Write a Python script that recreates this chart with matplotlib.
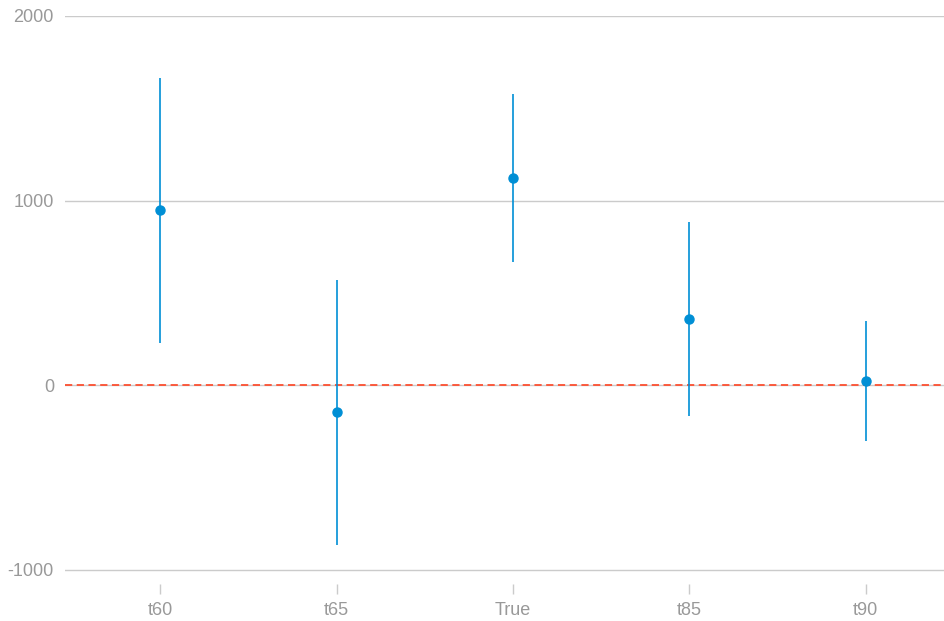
import matplotlib
matplotlib.use('Agg')
import matplotlib.pyplot as plt
import numpy as np

labels = ['t60', 't65', 'True', 't85', 't90']
estimate = [947, -146, 1121, 357, 22]
lower = [227, -866, 666, -168, -303]
upper = [1662, 568, 1575, 882, 346]

blue = '#008fd5'
red = '#fc4f30'
grey = '#999999'

plt.rcParams['font.family'] = ['Liberation Sans', 'DejaVu Sans']
plt.rcParams['axes.unicode_minus'] = False

fig = plt.figure(figsize=(9.45, 6.21), dpi=100)
W, H = 945, 621
top_px, bot_px = 16, 584
ax = fig.add_axes([65 / W, 1 - bot_px / H, 1 - 65 / W, (bot_px - top_px) / H])

x = np.arange(len(labels))
est = np.array(estimate)
yerr = [est - np.array(lower), np.array(upper) - est]

ax.axhline(0, color=red, lw=1.3, ls=(0, (4, 2.5)), zorder=2)
ax.errorbar(x, est, yerr=yerr, fmt='o', color=blue, ecolor=blue,
            elinewidth=1.2, capsize=0, markersize=6.5, zorder=3)

ax.set_xlim(-0.54, 4.45)
ax.set_ylim(-1077, 2000)
ax.set_yticks([-1000, 0, 1000, 2000])
ax.set_xticks(x)
ax.set_xticklabels(labels)
ax.yaxis.grid(True, color='#cbcbcb', lw=1.0, zorder=1)
ax.set_axisbelow(True)
for s in ax.spines.values():
    s.set_visible(False)
ax.tick_params(axis='y', length=0, pad=8, labelsize=13, labelcolor=grey)
ax.tick_params(axis='x', length=7, width=1, color='#cbcbcb', pad=6,
               labelsize=13, labelcolor=grey)

fig.savefig('out.png', dpi=100)
